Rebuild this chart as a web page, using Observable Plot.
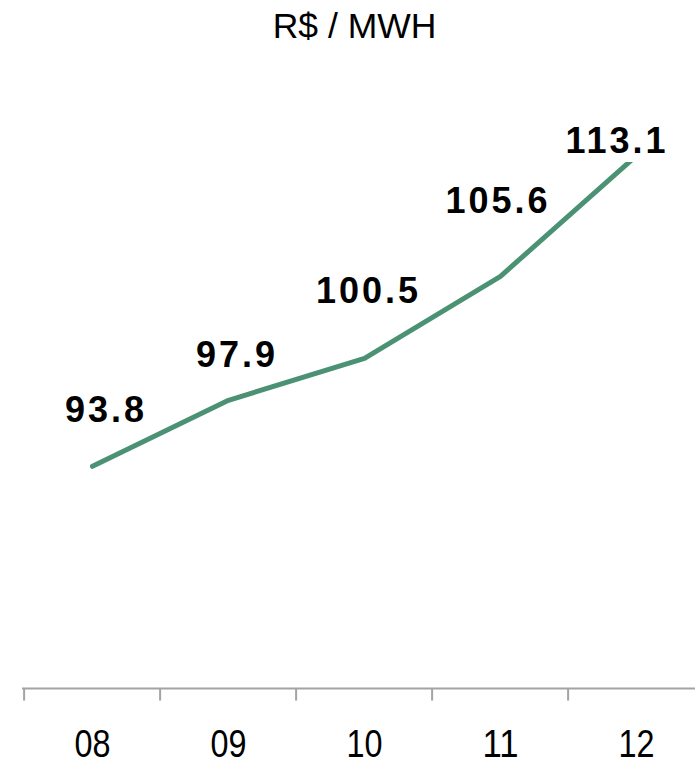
<!DOCTYPE html>
<html>
<head>
<meta charset="utf-8">
<script src="https://cdn.jsdelivr.net/npm/d3@7"></script>
<script src="https://cdn.jsdelivr.net/npm/@observablehq/plot@0.6"></script>
<style>
  html, body { margin: 0; padding: 0; background: #fff; }
  #chart svg { display: block; }
</style>
</head>
<body>
<div id="chart"></div>
<script>
// Data
const years = ["08", "09", "10", "11", "12"];
const prices = [93.8, 97.9, 100.5, 105.6, 113.1];
const title = "R$ / MWH";

// Label nudges (layout only, px)
const labelDx = [13.5, 8.5, 4, -2.5, -19.5];
const labelDy = [-44, -33, -55, -63, -2.5];

const data = years.map((year, i) => ({year, price: prices[i], i}));

const W = 695, H = 763;
const x0 = 22, x1 = 706;
const bw = (x1 - x0) / years.length;

const lineColor = "#4b9275";
const axisColor = "#a3a3a3";

const labelMarks = data.map(d =>
  Plot.text([d], {
    x: "year", y: "price", text: v => v.price.toFixed(1),
    dx: labelDx[d.i], dy: labelDy[d.i],
    lineAnchor: "bottom", textAnchor: "middle",
    fontSize: 36, fontWeight: "bold", fill: "#000",
    fontFamily: "Liberation Sans, Arial, sans-serif"
  })
);

const chart = Plot.plot({
  width: W,
  height: H,
  marginTop: 162,
  marginBottom: H - 688,
  marginLeft: x0,
  marginRight: 0,
  style: {background: "#fff"},
  x: {type: "band", domain: years, range: [x0, x1], padding: 0, axis: null},
  y: {type: "linear", domain: [80, 120], range: [688, 44], axis: null},
  marks: [
    // axis baseline
    Plot.ruleY([80], {stroke: axisColor, strokeWidth: 2}),
    // boundary ticks
    Plot.ruleX(years, {x: d => d, dx: -bw / 2, y1: 80, y2: 79.22, stroke: axisColor, strokeWidth: 2}),
    // category labels
    Plot.text(years, {
      x: d => d, y: 80, text: d => d, dy: 68, lineAnchor: "bottom",
      fontSize: 38, fill: "#000", fontWeight: 300,
      fontFamily: "Liberation Sans, Arial, sans-serif"
    }),
    // line
    Plot.line(data, {
      x: "year", y: "price", stroke: lineColor, strokeWidth: 5,
      strokeLinecap: "round", strokeLinejoin: "round", clip: true
    }),
    ...labelMarks,
    // title
    Plot.text([title], {
      frameAnchor: "top", dx: -4.5, dy: 37 - 162, lineAnchor: "bottom",
      text: d => d, fontSize: 35.5, fill: "#000",
      fontFamily: "Liberation Sans, Arial, sans-serif"
    })
  ]
});

// typographic tweaks: letter-spacing on value labels, condensed category labels
d3.select(chart).selectAll('g[font-weight="bold"] text').style("letter-spacing", "3px");
d3.select(chart).selectAll('g[font-weight="300"] text')
  .attr("textLength", 36).attr("lengthAdjust", "spacingAndGlyphs");

document.getElementById("chart").appendChild(chart);
</script>
</body>
</html>
